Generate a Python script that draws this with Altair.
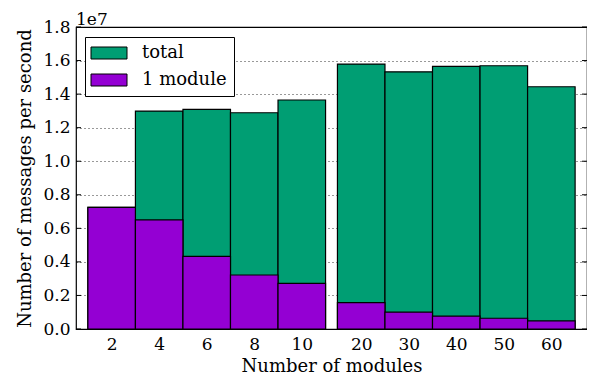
import altair as alt
import pandas as pd

# data (values in units of 1e7 messages per second)
modules = ["2", "4", "6", "8", "10", "20", "30", "40", "50", "60"]
total = [0.725, 1.299, 1.309, 1.289, 1.365, 1.579, 1.533, 1.565, 1.569, 1.444]
one_module = [0.725, 0.650, 0.433, 0.322, 0.272, 0.157, 0.101, 0.077, 0.064, 0.048]
y_ticks = [0.0, 0.2, 0.4, 0.6, 0.8, 1.0, 1.2, 1.4, 1.6, 1.8]
series = ["total", "1 module"]
colors = ["#009E73", "#9400D3"]

# bar slots: unit width, a small gap between the two groups
GAP = 0.25
pos = [i + (GAP if i >= 5 else 0.0) for i in range(len(modules))]
centers = [p + 0.5 for p in pos]

rows = []
for k, (name, vals) in enumerate(zip(series, [total, one_module])):
    for m, p, v in zip(modules, pos, vals):
        rows.append({"modules": m, "x0": p, "x1": p + 1, "value": v, "series": name,
                     "series_order": k})
df = pd.DataFrame(rows)

FONT = "DejaVu Serif"
W, H = 511, 302

label_expr = "[" + ",".join("'%s'" % m for m in modules) + "][indexof([" + \
    ",".join(str(c) for c in centers) + "], datum.value)]"

xscale = alt.Scale(domain=[-GAP, pos[-1] + 1 + GAP], nice=False, zero=False)
yscale = alt.Scale(domain=[0, 1.8], nice=False)
y_axis = alt.Axis(values=y_ticks, format=".1f", title="Number of messages per second",
                  grid=True, gridColor="black", gridDash=[1, 3], gridWidth=1,
                  gridOpacity=0.8, ticks=False, domain=False, labelPadding=6,
                  titlePadding=8, labelOverlap=False, tickCount=len(y_ticks))

bars = alt.Chart(df).mark_bar(stroke="black", strokeWidth=1.2).encode(
    x=alt.X("x0:Q", scale=xscale,
            axis=alt.Axis(values=centers, labelExpr=label_expr, title="Number of modules",
                          grid=False, ticks=False, domain=False, labelPadding=7,
                          titlePadding=5, labelOverlap=False, tickCount=len(centers))),
    x2="x1:Q",
    y=alt.Y("value:Q", stack=None, scale=yscale, axis=y_axis),
    y2=alt.datum(0),
    color=alt.Color("series:N", scale=alt.Scale(domain=series, range=colors),
                    sort=series,
                    legend=alt.Legend(title=None, orient="none", legendX=9, legendY=10,
                                      symbolType="M-3,-1H3V1H-3Z", symbolSize=144,
                                      symbolStrokeColor="black", symbolStrokeWidth=1,
                                      symbolOpacity=1,
                                      symbolOffset=8, labelOffset=24,
                                      labelFontSize=18, labelFont=FONT,
                                      rowPadding=9, padding=7,
                                      strokeColor="black", fillColor="white")),
    order=alt.Order("series_order:Q"),
)

tdf = pd.DataFrame({"t": y_ticks})
left_ticks = alt.Chart(tdf).mark_rule(color="black", strokeWidth=1).encode(
    y=alt.Y("t:Q", scale=yscale, axis=y_axis), x=alt.value(0), x2=alt.value(5))
right_ticks = alt.Chart(tdf).mark_rule(color="black", strokeWidth=1).encode(
    y=alt.Y("t:Q", scale=yscale, axis=y_axis), x=alt.value(W - 5), x2=alt.value(W))

chart = alt.layer(bars, left_ticks, right_ticks).properties(
    width=W, height=H,
    title=alt.Title("1e7", anchor="start", frame="group", fontSize=17, font=FONT,
                    fontWeight="normal", offset=-11, color="black"),
    autosize=alt.AutoSizeParams(type="none"),
    padding={"left": 68, "top": 19, "right": 0, "bottom": 50},
).configure(font=FONT).configure_view(stroke="black", strokeWidth=1.2).configure_axis(
    labelFont=FONT, titleFont=FONT, labelFontSize=17, titleFontSize=18,
    labelColor="black", titleColor="black", titleFontWeight="normal"
).configure_legend(labelFont=FONT, labelColor="black")

chart.save("out.html", embed_options={"renderer": "svg", "actions": False})
